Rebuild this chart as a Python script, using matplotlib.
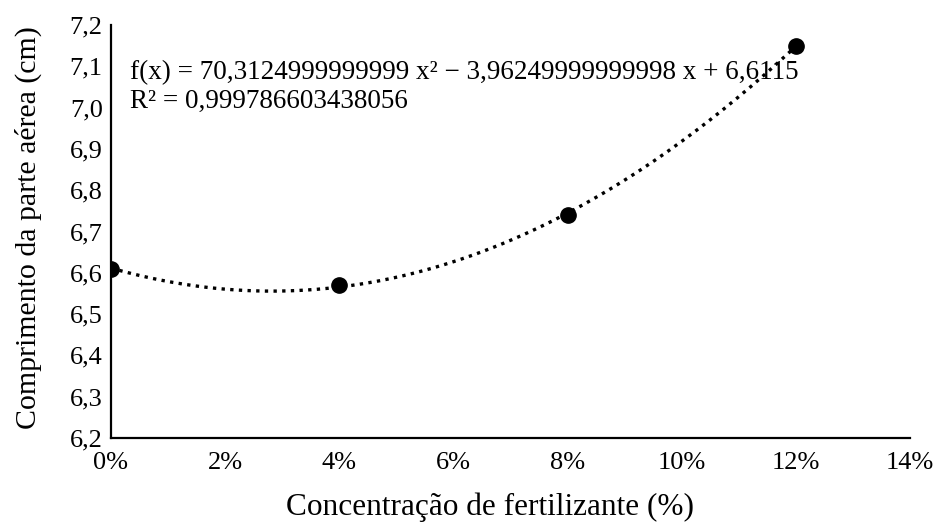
import numpy as np
import matplotlib
matplotlib.use("Agg")
import matplotlib.pyplot as plt

plt.rcParams['font.family'] = ['Liberation Serif', 'DejaVu Serif']

conc = [0.00, 0.04, 0.08, 0.12]
comprimento = [6.61, 6.57, 6.74, 7.15]
coef = [70.3124999999999, -3.96249999999998, 6.6115]
eq_text = "f(x) = 70,3124999999999 x² − 3,96249999999998 x + 6,6115"
r2_text = "R² = 0,999786603438056"
xticks = [0.00, 0.02, 0.04, 0.06, 0.08, 0.10, 0.12, 0.14]
xticklabels = ["0%", "2%", "4%", "6%", "8%", "10%", "12%", "14%"]
yticks = [6.2, 6.3, 6.4, 6.5, 6.6, 6.7, 6.8, 6.9, 7.0, 7.1, 7.2]
yticklabels = ["6,2", "6,3", "6,4", "6,5", "6,6", "6,7", "6,8", "6,9", "7,0", "7,1", "7,2"]

W, H = 937, 528
fig = plt.figure(figsize=(W / 100, H / 100), dpi=100)
ax = fig.add_axes([111 / W, 1 - 438 / H, (910 - 111) / W, (438 - 25) / H])

xs = np.linspace(min(conc), max(conc), 200)
ax.plot(xs, np.polyval(coef, xs), color='black', linestyle=(0, (1, 1.6)), linewidth=2.4, zorder=2)
ax.plot(conc, comprimento, 'o', color='black', markersize=11, zorder=3)

ax.set_xlim(0, 0.14)
ax.set_ylim(6.2, 7.2)
ax.set_xticks(xticks)
ax.set_xticklabels(xticklabels, fontsize=19)
ax.set_yticks(yticks)
ax.set_yticklabels(yticklabels, fontsize=19)
ax.tick_params(axis='x', length=0, pad=10)
ax.tick_params(axis='y', length=0, pad=6)
for s in ['top', 'right']:
    ax.spines[s].set_visible(False)
for s in ['left', 'bottom']:
    ax.spines[s].set_linewidth(1.6)

fig.text(490 / W, 1 - 507 / H, "Concentração de fertilizante (%)", fontsize=22.5,
         ha='center', va='center')
fig.text(28 / W, 1 - 228 / H, "Comprimento da parte aérea (cm)", fontsize=21.5,
         ha='center', va='center', rotation=90)

ax.text(0.0034, 7.084, eq_text, fontsize=19.5, va='center', ha='left')
ax.text(0.0034, 7.016, r2_text, fontsize=19.5, va='center', ha='left')

fig.savefig("out.png", dpi=100)
